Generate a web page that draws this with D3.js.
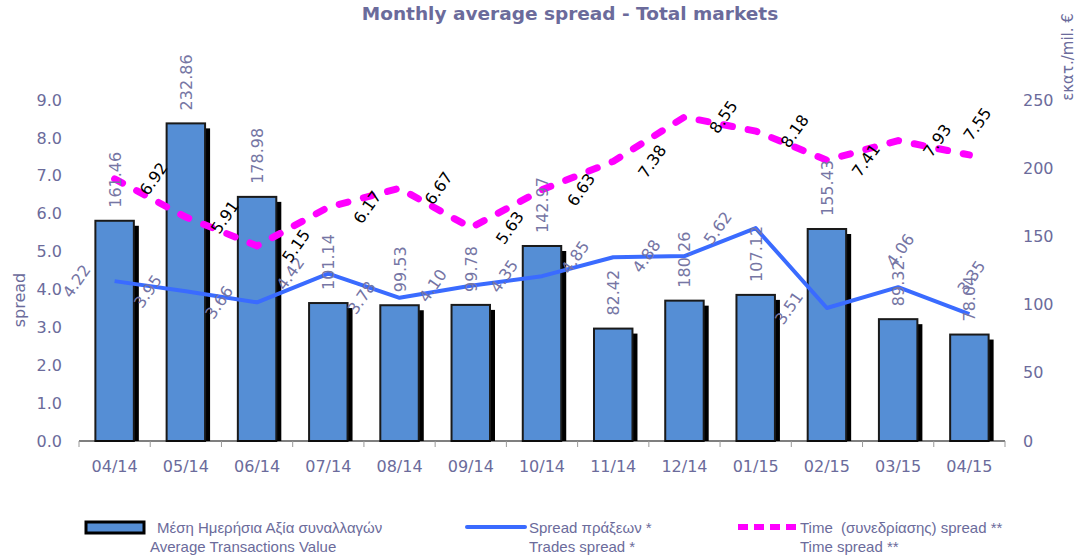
<!DOCTYPE html>
<html>
<head>
<meta charset="utf-8">
<script src="https://cdn.jsdelivr.net/npm/d3@7"></script>
<style>
  body { margin: 0; background: #fff; }
  svg { display: block; }
</style>
</head>
<body>
<div id="vis"></div>
<script>
var months = ["04/14", "05/14", "06/14", "07/14", "08/14", "09/14", "10/14", "11/14", "12/14", "01/15", "02/15", "03/15", "04/15"];
// average transactions value (right axis, mil. euro)
var txValues = [161.46, 232.86, 178.98, 101.14, 99.53, 99.78, 142.97, 82.42, 102.9, 107.12, 155.43, 89.32, 78.04];
var txLabels = ["161.46", "232.86", "178.98", "101.14", "99.53", "99.78", "142.97", "82.42", "180.26", "107.12", "155.43", "89.32", "78.04"];
// trades spread (left axis)
var tradesSpread = [4.22, 3.95, 3.66, 4.42, 3.78, 4.10, 4.35, 4.85, 4.88, 5.62, 3.51, 4.06, 3.35];
// time spread (left axis)
var timeSpread = [6.92, 5.91, 5.15, 6.17, 6.67, 5.63, 6.63, 7.38, 8.55, 8.18, 7.41, 7.93, 7.55];
var leftTicks = [0, 1, 2, 3, 4, 5, 6, 7, 8, 9];
var rightTicks = [0, 50, 100, 150, 200, 250];

var W = 1077, H = 556;
var textColor = "#6b6b9b",
    barColor = "#558ed5",
    blueLine = "#3a6bff",
    magenta = "#ff00ff";

var svg = d3.select("#vis").append("svg")
    .attr("width", W)
    .attr("height", H)
    .style("font-family", "'DejaVu Sans', Verdana, sans-serif");

var x = d3.scaleBand().domain(months).range([79, 1005]).padding(0);
var yL = d3.scaleLinear().domain([0, 9]).range([441, 100]);
var yR = d3.scaleLinear().domain([0, 250]).range([441, 100]);
var cx = function(d, i) { return x(months[i]) + x.bandwidth() / 2; };
var barW = x.bandwidth() * 0.54;
var n = months.length;

// title
svg.append("text")
    .attr("x", 570).attr("y", 20)
    .attr("text-anchor", "middle")
    .style("font-size", "18.5px")
    .style("font-weight", "bold")
    .style("fill", textColor)
    .text("Monthly average spread - Total markets");

// left axis
var gL = svg.append("g")
    .attr("transform", "translate(70,0)")
    .call(d3.axisLeft(yL).tickValues(leftTicks).tickSize(0).tickPadding(8).tickFormat(d3.format(".1f")));
gL.select(".domain").remove();

// right axis
var gR = svg.append("g")
    .attr("transform", "translate(1005,0)")
    .call(d3.axisRight(yR).tickValues(rightTicks).tickSize(0).tickPadding(18));
gR.select(".domain").remove();

svg.selectAll(".tick text")
    .style("font-size", "16px")
    .style("font-family", "'DejaVu Sans', Verdana, sans-serif")
    .style("fill", textColor);

// axis titles
svg.append("text")
    .attr("transform", "translate(25,300) rotate(-90)")
    .attr("text-anchor", "middle")
    .style("font-size", "16px")
    .style("fill", textColor)
    .text("spread");

svg.append("text")
    .attr("transform", "translate(1073,57) rotate(-90)")
    .attr("text-anchor", "middle")
    .style("font-size", "15px")
    .style("fill", textColor)
    .text("εκατ./mil. €");

// bars: shadow first, then the bar
var bars = svg.append("g");
bars.selectAll("rect.shadow")
    .data(txValues)
    .enter().append("rect")
    .attr("class", "shadow")
    .attr("x", function(d, i) { return cx(d, i) - barW / 2 + 5; })
    .attr("y", function(d) { return yR(d) + 5; })
    .attr("width", barW)
    .attr("height", function(d) { return yR(0) - yR(d) - 5; })
    .style("fill", "#000");

bars.selectAll("rect.bar")
    .data(txValues)
    .enter().append("rect")
    .attr("class", "bar")
    .attr("x", function(d, i) { return cx(d, i) - barW / 2; })
    .attr("y", function(d) { return yR(d); })
    .attr("width", barW)
    .attr("height", function(d) { return yR(0) - yR(d); })
    .style("fill", barColor)
    .style("stroke", "#1a1a1a")
    .style("stroke-width", 2);

// x axis line + ticks at category borders
svg.append("line")
    .attr("x1", 79).attr("x2", 1005)
    .attr("y1", 441).attr("y2", 441)
    .style("stroke", "#000").style("stroke-width", 1.2);

svg.selectAll("line.xtick")
    .data(months.concat(["end"]))
    .enter().append("line")
    .attr("class", "xtick")
    .attr("x1", function(d, i) { return 79 + i * x.step(); })
    .attr("x2", function(d, i) { return 79 + i * x.step(); })
    .attr("y1", 441).attr("y2", 447)
    .style("stroke", "#999");

svg.selectAll("text.xlab")
    .data(months)
    .enter().append("text")
    .attr("class", "xlab")
    .attr("x", function(d) { return x(d) + x.bandwidth() / 2; })
    .attr("y", 472)
    .attr("text-anchor", "middle")
    .style("font-size", "16px")
    .style("fill", textColor)
    .text(function(d) { return d; });

// lines
var spreadLine = d3.line()
    .x(function(d, i) { return cx(d, i); })
    .y(function(d) { return yL(d); });

svg.append("path")
    .datum(tradesSpread)
    .attr("d", spreadLine)
    .style("fill", "none")
    .style("stroke", blueLine)
    .style("stroke-width", 4)
    .style("stroke-linejoin", "round");

svg.append("path")
    .datum(timeSpread)
    .attr("d", spreadLine)
    .style("fill", "none")
    .style("stroke", magenta)
    .style("stroke-width", 7)
    .style("stroke-linecap", "round")
    .style("stroke-dasharray", "9,16");

// bar labels
svg.selectAll("text.barlab")
    .data(txValues)
    .enter().append("text")
    .attr("class", "barlab")
    .attr("transform", function(d, i) {
      return "translate(" + (cx(d, i) + 6) + "," + (yR(d) - 13) + ") rotate(-90)";
    })
    .style("font-size", "16px")
    .style("fill", "#7676a4")
    .text(function(d, i) { return txLabels[i]; });

// trades spread labels (last two sit above the point)
svg.selectAll("text.tlab")
    .data(tradesSpread)
    .enter().append("text")
    .attr("class", "tlab")
    .attr("transform", function(d, i) {
      var dx = i >= n - 2 ? 2 : -38, dy = i >= n - 2 ? -37 : 0;
      return "translate(" + (cx(d, i) + dx) + "," + (yL(d) + dy) + ") rotate(-55)";
    })
    .attr("text-anchor", "middle")
    .attr("dy", "0.35em")
    .style("font-size", "16px")
    .style("fill", "#7474a4")
    .text(function(d) { return d.toFixed(2); });

// time spread labels (last one sits above the point)
svg.selectAll("text.slab")
    .data(timeSpread)
    .enter().append("text")
    .attr("class", "slab")
    .attr("transform", function(d, i) {
      var dx = i == n - 1 ? 8 : 39, dy = i == n - 1 ? -31 : 0;
      return "translate(" + (cx(d, i) + dx) + "," + (yL(d) + dy) + ") rotate(-55)";
    })
    .attr("text-anchor", "middle")
    .attr("dy", "0.35em")
    .style("font-size", "16px")
    .style("fill", "#000")
    .text(function(d) { return d.toFixed(2); });

// legend
var leg = svg.append("g")
    .style("font-family", "'Liberation Sans', Arial, sans-serif")
    .style("font-size", "15px")
    .style("fill", textColor);

leg.append("rect")
    .attr("x", 86).attr("y", 522).attr("width", 58).attr("height", 11)
    .style("fill", barColor).style("stroke", "#000").style("stroke-width", 3);
leg.append("text").attr("x", 157).attr("y", 533).text("Μέση Ημερήσια Αξία συναλλαγών");
leg.append("text").attr("x", 150).attr("y", 552).text("Average Transactions Value");

leg.append("line")
    .attr("x1", 467).attr("x2", 525).attr("y1", 527).attr("y2", 527)
    .style("stroke", blueLine).style("stroke-width", 4).style("stroke-linecap", "round");
leg.append("text").attr("x", 529).attr("y", 533).text("Spread πράξεων *");
leg.append("text").attr("x", 529).attr("y", 552).text("Trades spread *");

leg.append("line")
    .attr("x1", 738).attr("x2", 796).attr("y1", 527).attr("y2", 527)
    .style("stroke", magenta).style("stroke-width", 6)
    .style("stroke-dasharray", "10,6");
leg.append("text").attr("x", 800).attr("y", 533).style("white-space", "pre").text("Time  (συνεδρίασης) spread **");
leg.append("text").attr("x", 800).attr("y", 552).text("Time spread **");
</script>
</body>
</html>
